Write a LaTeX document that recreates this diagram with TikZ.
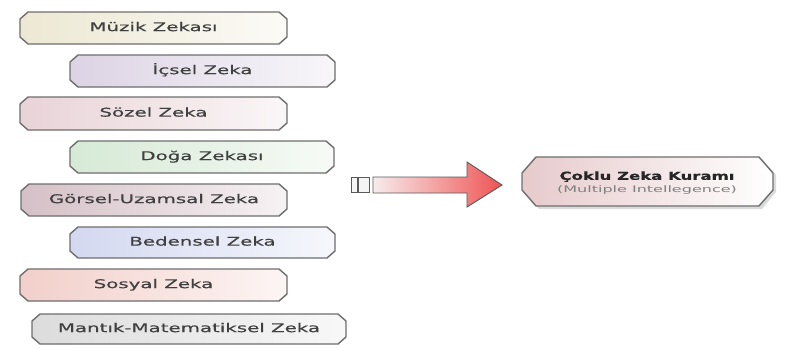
\documentclass[tikz,border=0pt]{standalone}
\usepackage{fontspec}
\setmainfont{DejaVu Sans}
\newfontfamily\labelfont[FakeStretch=1.65,FakeBold=0.5]{DejaVu Sans}
\newfontfamily\titlefont[FakeStretch=1.5,FakeBold=0.6]{DejaVu Sans}
\newfontfamily\subfont[FakeStretch=1.78]{DejaVu Sans}

\definecolor{tintMuzik}{HTML}{ECE8D3}
\definecolor{tintIcsel}{HTML}{DCD3E4}
\definecolor{tintSozel}{HTML}{E8D3D8}
\definecolor{tintDoga}{HTML}{D6E9D6}
\definecolor{tintGorsel}{HTML}{D4C0C6}
\definecolor{tintBeden}{HTML}{D3D8F0}
\definecolor{tintSosyal}{HTML}{F2CFCA}
\definecolor{tintMantik}{HTML}{DCDCDC}
\definecolor{tintKuram}{HTML}{E6CACC}
\definecolor{arrowLight}{HTML}{F7ECEC}
\definecolor{arrowRed}{HTML}{EF5454}
\definecolor{edgeGrey}{HTML}{6E6E6E}

\tikzset{
  zbox/.style={draw=edgeGrey, line width=1.4pt, line join=round},
  zlabel/.style={font=\labelfont\fontsize{12}{14}\selectfont, text=black!75,
    inner sep=0pt, text height=8.8pt, text depth=2.6pt},
  ktitle/.style={font=\titlefont\bfseries\fontsize{11}{13}\selectfont, text=black!85,
    inner sep=0pt, text height=8pt, text depth=2.4pt},
  ksub/.style={font=\subfont\fontsize{9}{11}\selectfont, text=black!50,
    inner sep=0pt, text height=6.6pt, text depth=2pt},
  blockarrow/.style={draw=black!65, line width=0.9pt, line join=miter,
    left color=arrowLight, right color=arrowRed},
  tailbar/.style={draw=black!65, line width=0.9pt, fill=black!4},
}

% chamfered label box: name, x1, y1, x2, y2, tint, text
\newcommand\zekabox[7]{%
  \path[zbox, left color=#6, right color=#6!20!white]
    (#2,#3+7) -- (#2+8,#3) -- (#4-8,#3) -- (#4,#3+7) -- (#4,#5-7)
    -- (#4-8,#5) -- (#2+8,#5) -- (#2,#5-7) -- cycle;
  \node[zlabel] (#1) at ({(#2+#4)/2},{(#3+#5)/2}) {#7};
}

\begin{document}
\begin{tikzpicture}[x=1pt,y=-1pt]
  \useasboundingbox[fill=white] (0,0) rectangle (788,349);

  % the eight intelligences
  \zekabox{muzik}{20}{12}{287}{44}{tintMuzik}{Müzik Zekası}
  \zekabox{icsel}{70}{55}{335}{87}{tintIcsel}{İçsel Zeka}
  \zekabox{sozel}{20}{97}{287}{130}{tintSozel}{Sözel Zeka}
  \zekabox{doga}{70}{141}{334}{173}{tintDoga}{Doğa Zekası}
  \zekabox{gorsel}{21}{184}{287}{216}{tintGorsel}{Görsel-Uzamsal Zeka}
  \zekabox{beden}{70}{227}{335}{258}{tintBeden}{Bedensel Zeka}
  \zekabox{sosyal}{20}{269}{287}{301}{tintSosyal}{Sosyal Zeka}
  \zekabox{mantik}{32}{314}{346}{344}{tintMantik}{Mantık-Matematiksel Zeka}

  % block arrow with its two tail bars
  \path[tailbar] (351,177) rectangle (357,192);
  \path[tailbar] (358,177) rectangle (369,192);
  \path[blockarrow]
    (373,177) -- (467,177) -- (467,162) -- (502,185)
    -- (467,207) -- (467,193) -- (373,193) -- cycle;

  % target box with soft shadow
  \fill[black!14]
    (525,175) -- (539,159) -- (762,159) -- (776,175) -- (776,192)
    -- (762,209) -- (539,209) -- (525,192) -- cycle;
  \path[zbox, left color=tintKuram, right color=white]
    (522,173) -- (536,157) -- (759,157) -- (773,173) -- (773,190)
    -- (759,206) -- (536,206) -- (522,190) -- cycle;
  \node[ktitle] (kuram) at (647,177) {Çoklu Zeka Kuramı};
  \node[ksub] (kuramsub) at (647,190) {(Multiple Intellegence)};
\end{tikzpicture}
\end{document}
